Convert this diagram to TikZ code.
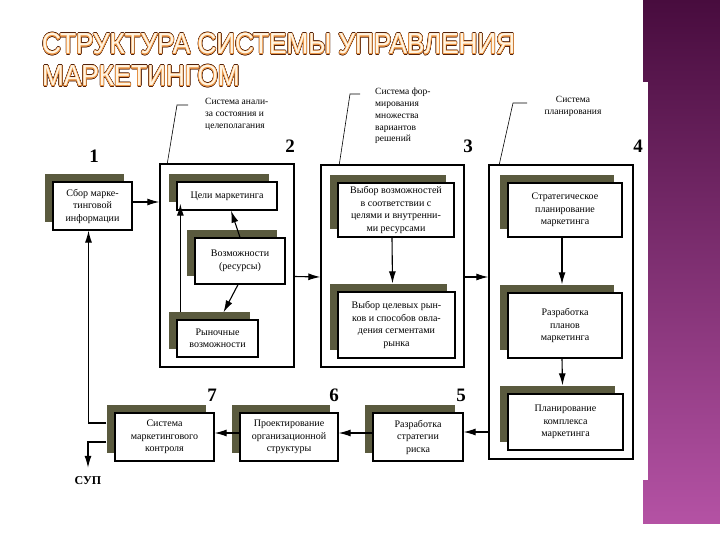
\documentclass[tikz,border=0pt]{standalone}
\usepackage{fontspec}
\setmainfont{Liberation Serif}
\setsansfont{Liberation Sans}
\usepackage{contour}
\usetikzlibrary{arrows.meta,shadows}
\definecolor{shadowolive}{RGB}{90,90,62}
\definecolor{titlebrown}{RGB}{80,32,10}
\definecolor{titleorange}{RGB}{236,150,70}
\definecolor{titlecream}{RGB}{255,244,225}
\definecolor{bartop}{RGB}{72,12,62}
\definecolor{barbottom}{RGB}{180,82,164}

\begin{document}
\begin{tikzpicture}[x=1pt,y=-1pt,
    box/.style={draw,fill=white,line width=1.3pt,align=center,inner sep=1pt,
      font=\fontsize{10}{12.5}\selectfont,
      general shadow={fill=shadowolive,shadow xshift=-8pt,shadow yshift=8pt}},
    frame/.style={draw,line width=1.4pt,inner sep=0pt},
    num/.style={font=\fontsize{19}{19}\selectfont\bfseries,inner sep=0pt},
    note/.style={font=\fontsize{9.5}{11.8}\selectfont,inner sep=0pt},
    arr/.style={line width=1.1pt,-{Latex[length=12pt,width=7pt]}},
    lead/.style={line width=0.6pt},
    titletext/.style={anchor=base west,inner sep=0pt,font=\sffamily\fontsize{29}{29}\selectfont}]
    \useasboundingbox[fill=white] (0,0) rectangle (720,540);

    \contourlength{1.1pt}
    \node[titletext] (titleA) at (42,54) {\scalebox{0.9}[1]{\contour{titlebrown}{\color{titlebrown}СТРУКТУРА СИСТЕМЫ УПРАВЛЕНИЯ}}};
    \node[titletext] (titleB) at (42,86) {\scalebox{0.9}[1]{\contour{titlebrown}{\color{titlebrown}МАРКЕТИНГОМ}}};
    \contourlength{0.5pt}
    \node[titletext] (titleC) at (42,54) {\scalebox{0.9}[1]{\contour{titleorange}{\color{titlecream}СТРУКТУРА СИСТЕМЫ УПРАВЛЕНИЯ}}};
    \node[titletext] (titleD) at (42,86) {\scalebox{0.9}[1]{\contour{titleorange}{\color{titlecream}МАРКЕТИНГОМ}}};

    \node[frame,minimum width=134pt,minimum height=203pt] (analysis) at (227,265.5) {};
    \node[frame,minimum width=143pt,minimum height=202pt] (options) at (392.5,266) {};
    \node[frame,minimum width=144pt,minimum height=294pt] (planning) at (561,312) {};

    \node[box,minimum width=79pt,minimum height=48pt] (collect) at (92.5,206) {Сбор марке-\\тинговой\\информации};
    \node[box,minimum width=100pt,minimum height=28pt] (goals) at (227,196) {Цели маркетинга};
    \node[box,minimum width=90pt,minimum height=46pt] (resources) at (240,261) {Возможности\\(ресурсы)};
    \node[box,minimum width=81pt,minimum height=37pt] (market) at (217.5,338.5) {Рыночные\\возможности};
    \node[box,minimum width=116pt,minimum height=54pt] (choice) at (396,210) {Выбор возможностей\\в соответствии с\\целями и внутренни-\\ми ресурсами};
    \node[box,minimum width=117pt,minimum height=66pt] (target) at (396.5,325) {Выбор целевых рын-\\ков и способов овла-\\дения сегментами\\рынка};
    \node[box,minimum width=114pt,minimum height=54pt] (strategic) at (565,210) {Стратегическое\\планирование\\маркетинга};
    \node[box,minimum width=114pt,minimum height=65pt] (plans) at (565,325.5) {Разработка\\планов\\маркетинга};
    \node[box,minimum width=115pt,minimum height=56pt] (mix) at (565.5,422) {Планирование\\комплекса\\маркетинга};
    \node[box,minimum width=90pt,minimum height=48pt] (risk) at (418,437) {Разработка\\стратегии\\риска};
    \node[box,minimum width=98pt,minimum height=48pt] (orgdesign) at (289,437) {Проектирование\\организационной\\структуры};
    \node[box,minimum width=99pt,minimum height=48pt] (control) at (164.5,437) {Система\\маркетингового\\контроля};

    \node[num] (n1) at (94,156) {1};
    \node[num] (n2) at (290,146) {2};
    \node[num] (n3) at (468,146) {3};
    \node[num] (n4) at (638,146) {4};
    \node[num] (n5) at (461,395) {5};
    \node[num] (n6) at (334,395) {6};
    \node[num] (n7) at (212,395) {7};
    \node[font=\fontsize{12}{12}\selectfont\bfseries,inner sep=0pt] (sup) at (88,481) {СУП};

    \node[note,anchor=north west,align=left] (analysisnote) at (205,98) {Система анали-\\за состояния и\\целеполагания};
    \node[note,anchor=north west,align=left] (optionsnote) at (375,88) {Система фор-\\мирования\\множества\\вариантов\\решений};
    \node[note,anchor=north,align=center] (planningnote) at (573,96) {Система\\планирования};
    \coordinate (analysisknee) at (177,105);
    \coordinate (analysisend) at (188,105);
    \coordinate (optionsknee) at (350,94);
    \coordinate (optionsend) at (360,94);
    \coordinate (planningknee) at (513,103);
    \coordinate (planningend) at (527,103);
    \draw[lead] ([xshift=8pt]analysis.north west) -- (analysisknee) -- (analysisend);
    \draw[lead] ([xshift=19pt]options.north west) -- (optionsknee) -- (optionsend);
    \draw[lead] ([xshift=11pt]planning.north west) -- (planningknee) -- (planningend);

    \draw[arr] ([yshift=4pt]collect.east) -- ([yshift=4pt]collect.east -| analysis.west);
    \draw[arr] ([yshift=-11pt]analysis.east) -- ([yshift=-11pt]options.west);
    \draw[arr] ([yshift=-11pt]options.east) -- ([yshift=-11pt]options.east -| planning.west);
    \draw[arr] (resources.north) -- ([xshift=4pt]goals.south);
    \draw[arr] ([xshift=-2pt]resources.south) -- ([shift={(6,-7)}]market.north);
    \draw[arr] ([shift={(4,-7)}]market.north west) -- ([shift={(4,-7)}]market.north west |- goals.south);
    \draw[arr] ([xshift=-4pt]choice.south) -- ([shift={(-4,-8)}]target.north);
    \draw[arr] ([xshift=-3pt]strategic.south) -- ([shift={(-3,-8)}]plans.north);
    \draw[arr] ([xshift=-3pt]plans.south) -- ([shift={(-3,-8)}]mix.north);
    \draw[arr] ([yshift=5pt]risk.east -| planning.west) -- ([yshift=5pt]risk.east);
    \draw[arr] ([yshift=4pt]risk.west) -- ([yshift=4pt]orgdesign.east);
    \draw[arr] ([yshift=4pt]orgdesign.west) -- ([yshift=4pt]control.east);
    \draw[arr] ([shift={(-8,-14)}]control.west) -| ([xshift=-4pt]collect.south);
    \draw[arr] ([shift={(-8,5)}]control.west) -| ([yshift=9pt]sup.north);

    \shade[top color=bartop,bottom color=barbottom] (643,0) rectangle (720,523);
    \fill[white] (643,82) rectangle (648,480);
\end{tikzpicture}
\end{document}
